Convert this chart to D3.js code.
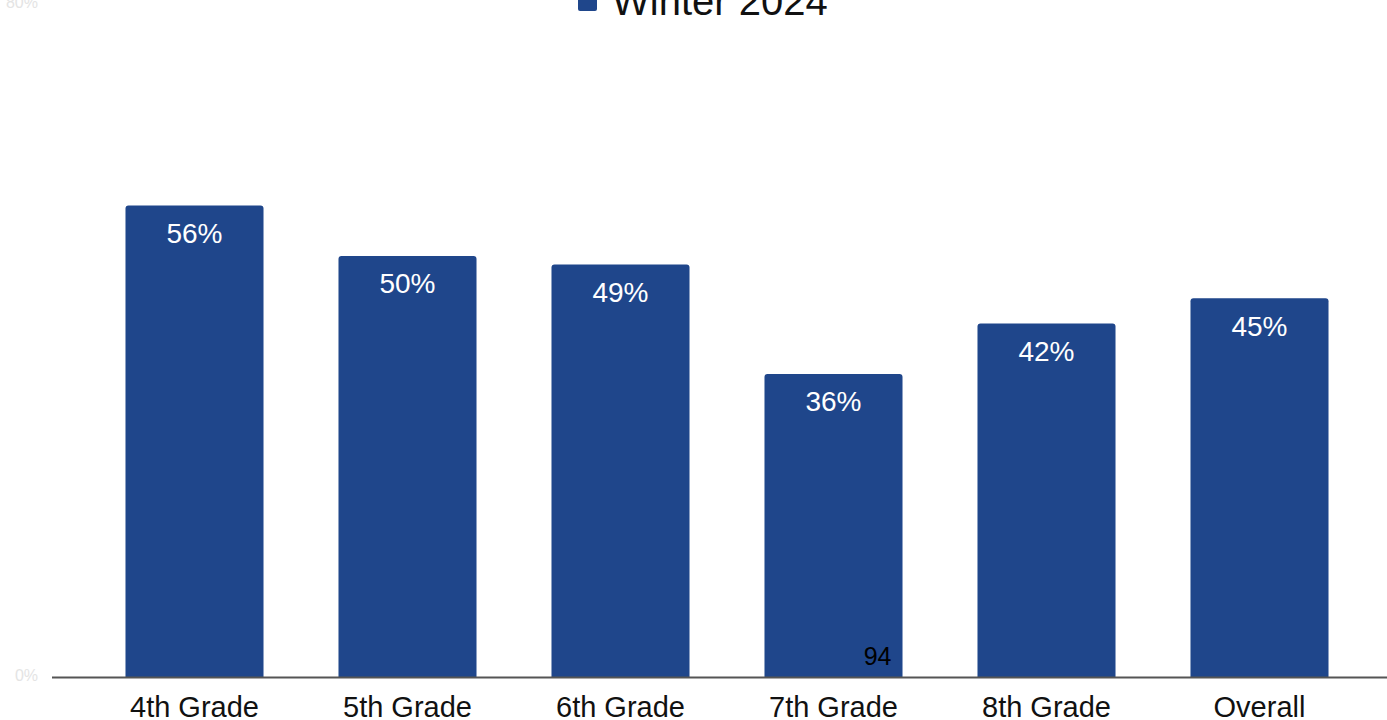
<!DOCTYPE html>
<html>
<head>
<meta charset="utf-8">
<script src="https://cdn.jsdelivr.net/npm/d3@7"></script>
<style>
	html, body { margin: 0; padding: 0; background: #fff; overflow: hidden; }
	svg { display: block; font-family: 'Liberation Sans', Arial, sans-serif; }
</style>
</head>
<body>
<svg id="chart"></svg>
<script>
const WIDTH = 1387;
const HEIGHT = 720;

const categories = ['4th Grade', '5th Grade', '6th Grade', '7th Grade', '8th Grade', 'Overall'];
const winter2024 = [56, 50, 49, 36, 42, 45];
const yTicks = [0, 80];
const seriesName = 'Winter 2024';
const BAR_COLOR = '#1f468b';

const svg = d3.select('#chart').attr('width', WIDTH).attr('height', HEIGHT);

const x = d3.scaleBand()
	.domain(categories)
	.range([88, 1366])
	.paddingInner(0.352)
	.paddingOuter(0.176);
const y = d3.scaleLinear().domain([0, 80]).range([677, 3.5]);

// faint y tick labels
svg.append('g')
	.selectAll('text')
	.data(yTicks)
	.enter()
	.append('text')
	.attr('x', 38)
	.attr('y', (d) => y(d))
	.attr('text-anchor', 'end')
	.attr('dominant-baseline', 'middle')
	.attr('font-size', '16px')
	.attr('fill', '#e4e4e4')
	.text((d) => d + '%');

// bars, rounded top corners
svg.append('g')
	.selectAll('path')
	.data(categories)
	.enter()
	.append('path')
	.attr('fill', BAR_COLOR)
	.attr('d', (d, i) => {
		const x0 = x(d), w = x.bandwidth(), y0 = y(winter2024[i]), y1 = y(0), r = 3;
		return `M${x0},${y1}V${y0 + r}Q${x0},${y0} ${x0 + r},${y0}H${x0 + w - r}Q${x0 + w},${y0} ${x0 + w},${y0 + r}V${y1}Z`;
	});

// value labels
svg.append('g')
	.selectAll('text')
	.data(categories)
	.enter()
	.append('text')
	.attr('x', (d) => x(d) + x.bandwidth() / 2)
	.attr('y', (d, i) => y(winter2024[i]) + 30)
	.attr('text-anchor', 'middle')
	.attr('dominant-baseline', 'middle')
	.attr('font-size', '28px')
	.attr('fill', '#fff')
	.text((d, i) => winter2024[i] + '%');

// stray "94" label inside the 7th grade bar
svg.append('text')
	.attr('x', x('7th Grade') + x.bandwidth() - 11)
	.attr('y', y(0) - 19)
	.attr('text-anchor', 'end')
	.attr('dominant-baseline', 'middle')
	.attr('font-size', '25px')
	.attr('fill', '#000')
	.text('94');

// baseline
svg.append('line')
	.attr('x1', 52)
	.attr('x2', WIDTH)
	.attr('y1', y(0) + 0.5)
	.attr('y2', y(0) + 0.5)
	.attr('stroke', '#555')
	.attr('stroke-width', 2);

// x axis labels
svg.append('g')
	.selectAll('text')
	.data(categories)
	.enter()
	.append('text')
	.attr('x', (d) => x(d) + x.bandwidth() / 2)
	.attr('y', 709)
	.attr('text-anchor', 'middle')
	.attr('dominant-baseline', 'middle')
	.attr('font-size', '29px')
	.attr('fill', '#111')
	.text((d) => d);

// legend (clipped at top)
const legend = svg.append('g');
legend.append('rect')
	.attr('x', 578)
	.attr('y', -8)
	.attr('width', 19)
	.attr('height', 19)
	.attr('rx', 2)
	.attr('fill', BAR_COLOR);
legend.append('text')
	.attr('x', 612)
	.attr('y', 15)
	.attr('font-size', '40px')
	.attr('fill', '#111')
	.text(seriesName);
</script>
</body>
</html>
